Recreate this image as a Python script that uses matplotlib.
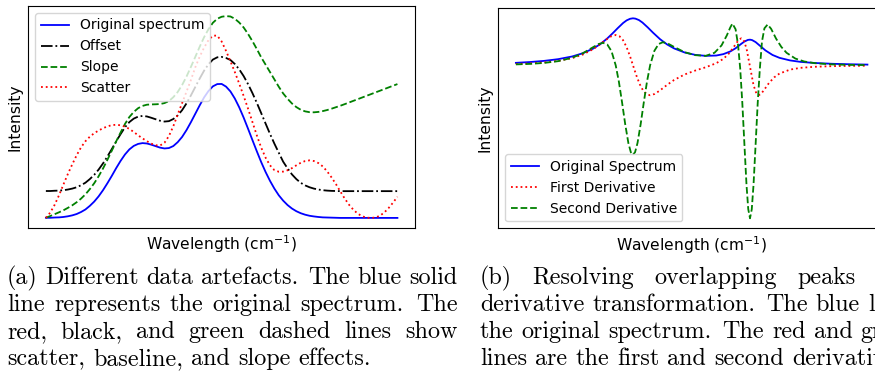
import matplotlib
matplotlib.use("Agg")
import matplotlib.pyplot as plt

# (a) different data artefacts (arbitrary units)
wave_a = [0, 1.25, 2.5, 3.75, 5, 6.25, 7.5, 8.75, 10, 11.25, 12.5, 13.75, 15, 16.25, 17.5,
          18.75, 20, 21.25, 22.5, 23.75, 25, 26.25, 27.5, 28.75, 30, 31.25, 32.5, 33.75,
          35, 36.25, 37.5, 38.75, 40, 41.25, 42.5, 43.75, 45, 46.25, 47.5, 48.75, 50,
          51.25, 52.5, 53.75, 55, 56.25, 57.5, 58.75, 60, 61.25, 62.5, 63.75, 65, 66.25,
          67.5, 68.75, 70, 71.25, 72.5, 73.75, 75, 76.25, 77.5, 78.75, 80, 81.25, 82.5,
          83.75, 85, 86.25, 87.5, 88.75, 90, 91.25, 92.5, 93.75, 95, 96.25, 97.5, 98.75, 100]
original_a = [0.001, 0.001, 0.003, 0.004, 0.007, 0.012, 0.019, 0.029, 0.044, 0.063, 0.09,
              0.122, 0.161, 0.207, 0.259, 0.314, 0.372, 0.426, 0.474, 0.512, 0.538, 0.553,
              0.559, 0.556, 0.547, 0.536, 0.525, 0.519, 0.522, 0.537, 0.566, 0.605, 0.656,
              0.715, 0.778, 0.841, 0.9, 0.948, 0.983, 1.0, 1.001, 0.981, 0.945, 0.892,
              0.826, 0.75, 0.667, 0.582, 0.498, 0.417, 0.343, 0.277, 0.219, 0.169, 0.129,
              0.096, 0.07, 0.05, 0.035, 0.024, 0.016, 0.011, 0.007, 0.004, 0.003, 0.002,
              0.001, 0, 0, 0, 0, 0, 0, 0, 0, 0, 0, 0, 0, 0, 0]
offset_a = [0.201, 0.201, 0.203, 0.204, 0.207, 0.212, 0.219, 0.229, 0.244, 0.263, 0.29,
            0.322, 0.361, 0.407, 0.459, 0.514, 0.572, 0.626, 0.677, 0.716, 0.742, 0.757,
            0.762, 0.758, 0.748, 0.737, 0.726, 0.72, 0.723, 0.739, 0.766, 0.805, 0.856,
            0.915, 0.978, 1.041, 1.1, 1.148, 1.183, 1.2, 1.203, 1.195, 1.18, 1.15, 1.11,
            1.06, 1.0, 0.933, 0.86, 0.783, 0.705, 0.628, 0.555, 0.487, 0.42, 0.37, 0.325,
            0.29, 0.262, 0.243, 0.229, 0.219, 0.212, 0.207, 0.204, 0.202, 0.201, 0.2,
            0.2, 0.2, 0.2, 0.2, 0.2, 0.2, 0.2, 0.2, 0.2, 0.2, 0.2, 0.2, 0.2]
slope_a = [0.001, 0.014, 0.028, 0.042, 0.057, 0.075, 0.094, 0.117, 0.144, 0.176, 0.215,
           0.259, 0.311, 0.369, 0.434, 0.502, 0.572, 0.638, 0.702, 0.754, 0.792, 0.82,
           0.837, 0.846, 0.848, 0.849, 0.851, 0.858, 0.873, 0.902, 0.941, 0.993, 1.056,
           1.128, 1.203, 1.279, 1.35, 1.41, 1.458, 1.488, 1.503, 1.508, 1.505, 1.488,
           1.46, 1.423, 1.375, 1.321, 1.262, 1.2, 1.145, 1.09, 1.035, 0.98, 0.93, 0.89,
           0.855, 0.828, 0.808, 0.796, 0.79, 0.789, 0.792, 0.798, 0.806, 0.816, 0.827,
           0.838, 0.85, 0.8625, 0.875, 0.8875, 0.9, 0.9125, 0.925, 0.9375, 0.95, 0.9625,
           0.975, 0.9875, 1.0]
scatter_a = [0, 0.04, 0.098, 0.17, 0.25, 0.328, 0.4, 0.468, 0.527, 0.573, 0.607, 0.633,
             0.653, 0.67, 0.684, 0.693, 0.696, 0.692, 0.682, 0.665, 0.642, 0.617, 0.594,
             0.573, 0.555, 0.543, 0.541, 0.562, 0.612, 0.685, 0.773, 0.858, 0.943, 1.03,
             1.125, 1.205, 1.272, 1.328, 1.362, 1.362, 1.318, 1.248, 1.17, 1.09, 1.003,
             0.912, 0.817, 0.717, 0.617, 0.525, 0.45, 0.393, 0.357, 0.345, 0.346, 0.356,
             0.372, 0.393, 0.412, 0.425, 0.43, 0.425, 0.41, 0.385, 0.348, 0.303, 0.253,
             0.198, 0.145, 0.098, 0.06, 0.031, 0.012, 0.002, 0.0, 0.003, 0.016, 0.04,
             0.074, 0.114, 0.158]

# (b) derivative transformation
wave_orig_b = [0, 4, 8, 12, 16, 19, 22, 24, 26, 27.5, 29, 30.5, 31.5, 32.5, 33.3, 34, 35,
               36, 37.5, 39, 41, 43, 45, 48, 51, 54, 57, 59, 61, 62.5, 64, 65, 66, 66.6,
               67.2, 68.2, 69.5, 71, 73, 75, 78, 81, 85, 90, 95, 100]
orig_b = [0.053, 0.07, 0.094, 0.13, 0.187, 0.254, 0.354, 0.447, 0.567, 0.673, 0.786,
          0.892, 0.947, 0.981, 0.991, 0.984, 0.954, 0.902, 0.8, 0.689, 0.552, 0.441,
          0.357, 0.271, 0.221, 0.2, 0.207, 0.236, 0.293, 0.36, 0.447, 0.501, 0.536,
          0.541, 0.532, 0.49, 0.408, 0.314, 0.219, 0.158, 0.104, 0.073, 0.05, 0.033,
          0.023, 0.016]
wave_first_b = [0, 4, 8, 12, 16, 19, 22, 24, 25.5, 27, 28.4, 29.5, 30.5, 31.5, 32.5, 33.3,
                34.2, 35.2, 36.2, 37.2, 38.2, 39.5, 41, 43, 45, 48, 51, 54, 57, 59, 60.5,
                61.8, 62.8, 63.5, 64.1, 64.8, 65.6, 66.6, 67.6, 68.4, 69.1, 69.8, 70.7, 72,
                73.5, 75, 78, 81, 85, 90, 95, 100]
first_b = [0.029, 0.041, 0.061, 0.094, 0.152, 0.226, 0.342, 0.446, 0.532, 0.608, 0.639,
           0.611, 0.529, 0.383, 0.185, 0.004, -0.199, -0.393, -0.532, -0.608, -0.63,
           -0.602, -0.527, -0.412, -0.308, -0.192, -0.11, -0.04, 0.045, 0.136, 0.241,
           0.368, 0.478, 0.543, 0.569, 0.53, 0.358, -0.029, -0.416, -0.589, -0.628,
           -0.596, -0.507, -0.371, -0.251, -0.172, -0.089, -0.052, -0.03, -0.017,
           -0.011, -0.008]
wave_second_b = [0, 4, 8, 12, 16, 19, 21.5, 23.5, 24.8, 26, 27.2, 28.4, 29.3, 30.2, 31.1,
                 32, 32.7, 33.3, 33.9, 34.6, 35.5, 36.4, 37.3, 38.2, 39.4, 40.6, 41.8,
                 43.2, 45, 48, 51, 54, 56.5, 58.5, 60, 61, 61.6, 62.5, 63.2, 63.8, 64.4,
                 65, 65.6, 66.1, 66.6, 67.1, 67.6, 68.2, 68.8, 69.4, 70, 70.7, 71.6, 72.6,
                 74, 75.5, 77, 79.5, 82, 85, 90, 95, 100]
second_b = [0.02, 0.031, 0.051, 0.088, 0.16, 0.253, 0.362, 0.449, 0.474, 0.439, 0.299,
            0.0, -0.345, -0.778, -1.239, -1.636, -1.83, -1.885, -1.829, -1.635, -1.237,
            -0.774, -0.341, 0.006, 0.306, 0.449, 0.487, 0.461, 0.388, 0.277, 0.215, 0.2,
            0.265, 0.42, 0.63, 0.8, 0.88, 0.76, 0.43, -0.058, -0.774, -1.652, -2.513,
            -3.029, -3.221, -3.032, -2.517, -1.659, -0.783, -0.07, 0.5, 0.78, 0.86, 0.77,
            0.565, 0.389, 0.264, 0.143, 0.082, 0.046, 0.02, 0.01, 0.006]

caption_a = ["(a) Different data artefacts. The blue solid",
             "line represents the original spectrum. The",
             "red, black, and green dashed lines show",
             "scatter, baseline, and slope effects."]
caption_b = ["(b) Resolving overlapping peaks using",
             "derivative transformation. The blue line is",
             "the original spectrum. The red and green",
             "lines are the first and second derivatives."]

W, H = 875, 377
fig = plt.figure(figsize=(W / 100, H / 100), dpi=100)

ax1 = fig.add_axes([28.3 / W, 1 - 228 / H, 386.7 / W, 222 / H])
ax1.plot(wave_a, original_a, color='b', lw=1.3, label='Original spectrum')
ax1.plot(wave_a, offset_a, color='k', ls='-.', lw=1.3, label='Offset')
ax1.plot(wave_a, slope_a, color='g', ls='--', lw=1.3, label='Slope')
ax1.plot(wave_a, scatter_a, color='r', ls=':', lw=1.3, label='Scatter')
ax1.legend(loc='upper left')

ax2 = fig.add_axes([498.3 / W, 1 - 228.3 / H, 386.7 / W, 220 / H])
ax2.plot(wave_orig_b, orig_b, color='b', lw=1.3, label='Original Spectrum')
ax2.plot(wave_first_b, first_b, color='r', ls=':', lw=1.3, label='First Derivative')
ax2.plot(wave_second_b, second_b, color='g', ls='--', lw=1.3, label='Second Derivative')
ax2.legend(loc='lower left')

for ax in (ax1, ax2):
    ax.set_xticks([])
    ax.set_yticks([])
    ax.set_xlabel('Wavelength (cm$^{-1}$)', fontsize=11.2)
    ax.set_ylabel('Intensity', fontsize=11.2)

# captions, set word by word (TeX-like spacing) so justified lines fill the column
renderer = fig.canvas.get_renderer()
cap_size = 17.35
cap_font = dict(family='cmr10', size=cap_size, va='baseline', ha='left')
em = cap_size * 100 / 72


def put_line(line, y, left, right=None):
    words = line.split()
    texts = [fig.text(0, 0, w, **cap_font) for w in words]
    widths = [t.get_window_extent(renderer).width for t in texts]
    gaps = [0.333 * em + (0.111 * em if w.endswith('.') else 0) for w in words[:-1]]
    if right is not None:
        extra = (right - left - sum(widths) - sum(gaps)) / len(gaps)
        gaps = [g + extra for g in gaps]
    x = left
    for t, w, g in zip(texts, widths, gaps + [0]):
        t.set_position((x / W, 1 - y / H))
        x += w + g


for i, line in enumerate(caption_a):
    put_line(line, 284 + 27 * i, 7, None if i == len(caption_a) - 1 else 457.5)
for i, line in enumerate(caption_b):
    put_line(line, 284 + 27 * i, 480, 930.5 if i == 0 else None)

fig.savefig('out.png', dpi=100)
